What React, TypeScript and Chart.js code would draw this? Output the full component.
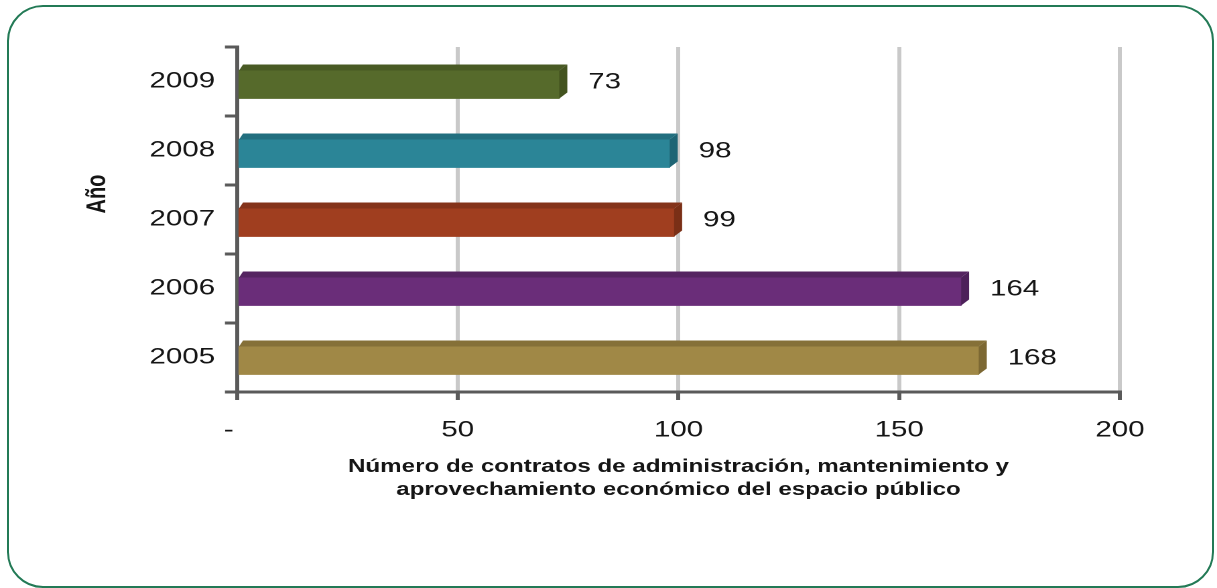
import React, { useEffect, useRef } from "react";
import { Chart, registerables } from "chart.js";

Chart.register(...registerables);

const years = ["2009", "2008", "2007", "2006", "2005"];
const contratos = [73, 98, 99, 164, 168];
const faceColors = ["#566a2b", "#2b8597", "#a03e1f", "#6a2d79", "#a08846"];
const topColors = ["#495a24", "#226f7f", "#84331a", "#552461", "#857038"];
const sideColors = ["#43531f", "#1e6474", "#7a2f16", "#4d205a", "#7c6833"];
const xTitleLines = [
  "Número de contratos de administración, mantenimiento y",
  "aprovechamiento económico del espacio público",
];
const yTitle = "Año";
const zeroLabel = "-  ";

const PAGE_W = 1217;
const PAGE_H = 588;
const INNER_W = 908; // canvas drawing width, stretched to page width
const SX = PAGE_W / INNER_W;
const FONT = '"Liberation Sans", Arial, Helvetica, sans-serif';

const AREA_LEFT = 237 / SX;
const AREA_RIGHT = 1120 / SX;
const AREA_TOP = 47;
const AREA_BOTTOM = 392;

const bar3d = {
  id: "bar3d",
  beforeDatasetsDraw(chart: any) {
    chart.ctx.save();
    chart.ctx.translate(0, 3);
  },
  afterDatasetsDraw(chart: any) {
    const ctx = chart.ctx;
    const meta = chart.getDatasetMeta(0);
    const DX = 6;
    const DY = 6;
    meta.data.forEach((el: any, i: number) => {
      const p = el.getProps(["x", "y", "base", "height"], true);
      const top = p.y - p.height / 2;
      const bottom = p.y + p.height / 2;
      ctx.fillStyle = topColors[i];
      ctx.beginPath();
      ctx.moveTo(p.base, top);
      ctx.lineTo(p.base + DX * 0.5, top - DY);
      ctx.lineTo(p.x + DX, top - DY);
      ctx.lineTo(p.x, top);
      ctx.closePath();
      ctx.fill();
      ctx.fillStyle = sideColors[i];
      ctx.beginPath();
      ctx.moveTo(p.x, top);
      ctx.lineTo(p.x + DX, top - DY);
      ctx.lineTo(p.x + DX, bottom - DY);
      ctx.lineTo(p.x, bottom);
      ctx.closePath();
      ctx.fill();
      ctx.fillStyle = "#151515";
      ctx.font = `22px ${FONT}`;
      ctx.textAlign = "left";
      ctx.textBaseline = "middle";
      ctx.fillText(String(contratos[i]), p.x + 21.6, p.y - 2);
    });
    ctx.restore();

    ctx.save();
    ctx.translate(105 / SX, 194);
    ctx.rotate(-Math.PI / 2);
    ctx.fillStyle = "#151515";
    ctx.font = `bold 20px ${FONT}`;
    ctx.textAlign = "center";
    ctx.textBaseline = "alphabetic";
    ctx.fillText(yTitle, 0, 0);
    ctx.restore();
  },
};

export default function App() {
  const ref = useRef<HTMLCanvasElement | null>(null);

  useEffect(() => {
    if (!ref.current) return;
    const chart = new Chart(ref.current, {
      type: "bar",
      data: {
        labels: years,
        datasets: [
          {
            data: contratos,
            backgroundColor: faceColors,
            borderWidth: 0,
            barThickness: 28,
          },
        ],
      },
      plugins: [bar3d],
      options: {
        indexAxis: "y",
        animation: false,
        responsive: false,
        maintainAspectRatio: false,
        devicePixelRatio: 2,
        layout: {
          padding: { top: AREA_TOP, right: INNER_W - AREA_RIGHT, bottom: 0, left: 0 },
        },
        plugins: {
          legend: { display: false },
          tooltip: { enabled: false },
        },
        scales: {
          x: {
            min: 0,
            max: 200,
            afterFit(scale: any) {
              scale.height = PAGE_H - AREA_BOTTOM;
            },
            ticks: {
              stepSize: 50,
              padding: 17,
              color: "#151515",
              font: { size: 22, family: FONT },
              callback: (v: any) => (Number(v) === 0 ? zeroLabel : String(v)),
            },
            grid: {
              color: (c: any) => (c.tick && c.tick.value === 0 ? "rgba(0,0,0,0)" : "#c9c9c9"),
              lineWidth: 3,
              tickColor: "#5a5a5a",
              tickLength: 8,
              tickWidth: 3,
            },
            border: { display: true, color: "#5a5a5a", width: 3 },
            title: {
              display: true,
              text: xTitleLines,
              color: "#151515",
              font: { size: 18, weight: "bold", family: FONT, lineHeight: 23 / 18 },
              padding: { top: 0, bottom: 86.5 },
            },
          },
          y: {
            afterFit(scale: any) {
              scale.width = AREA_LEFT;
            },
            ticks: {
              padding: 7.4,
              color: "#151515",
              font: { size: 22, family: FONT },
            },
            grid: {
              drawOnChartArea: false,
              tickColor: "#5a5a5a",
              tickLength: 9,
              lineWidth: 3,
            },
            border: { display: true, color: "#5a5a5a", width: 3 },
          },
        },
      } as any,
    });
    return () => chart.destroy();
  }, []);

  return (
    <div style={{ position: "absolute", left: 0, top: 0, width: PAGE_W, height: PAGE_H, background: "#fff", overflow: "hidden" }}>
      <div
        style={{
          position: "absolute",
          left: 7,
          top: 5,
          width: 1207,
          height: 583,
          boxSizing: "border-box",
          border: "2px solid #237a56",
          borderRadius: 36,
        }}
      />
      <canvas
        ref={ref}
        width={INNER_W}
        height={PAGE_H}
        style={{ position: "absolute", left: 0, top: 0, width: PAGE_W + "px", height: PAGE_H + "px" }}
      />
    </div>
  );
}
